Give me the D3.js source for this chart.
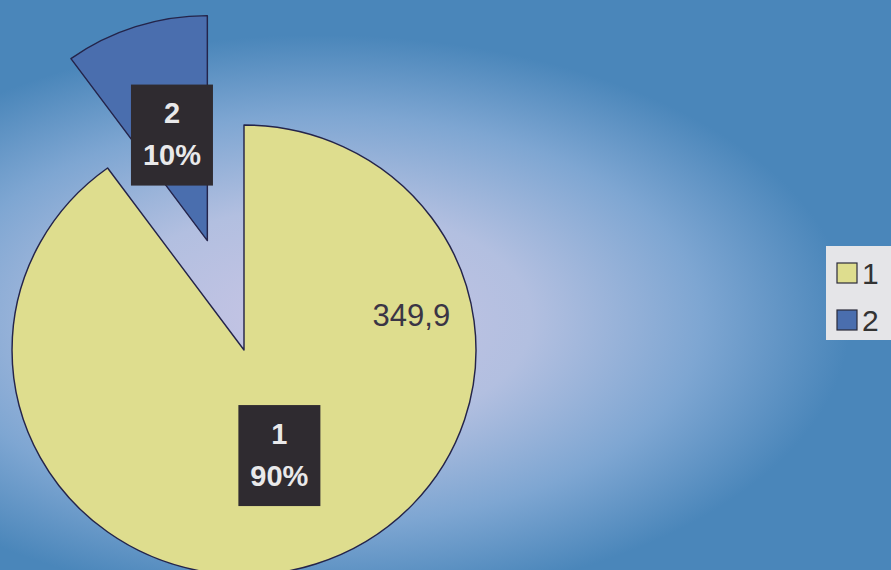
<!DOCTYPE html>
<html>
<head>
<meta charset="utf-8">
<script src="https://cdn.jsdelivr.net/npm/d3@7"></script>
<style>
  html, body { margin: 0; padding: 0; background: #4a86ba; }
  svg { display: block; font-family: 'Liberation Sans', Arial, sans-serif; }
</style>
</head>
<body>
<div id="chart"></div>
<script>
const WIDTH = 891,
      HEIGHT = 570

// data
const CATEGORIES = ['1', '2'],
      VALUES = [349.9, 38.9],
      COLORS = ['#dedd8e', '#4a6eae'],
      EXPLODE = [0, 115],
      VALUE_LABELS = [{ category: '1', show: true }]

const PIE = Object.freeze({ CX: 244, CY: 350, R: 225, SX: 1.031 }),
      LABEL_R = 111,
      BOX = Object.freeze({ W: 82, H: 101 })

const ruLocale = d3.formatLocale({ decimal: ',', thousands: ' ', grouping: [3], currency: ['', ''] }),
      formatValue = ruLocale.format('.1f'),
      formatPct = d3.format('.0%')

const svg = d3.select('#chart')
  .append('svg')
  .attr('width', WIDTH)
  .attr('height', HEIGHT)

// background
const defs = svg.append('defs')
const bg = defs.append('radialGradient')
  .attr('id', 'bg')
  .attr('gradientUnits', 'userSpaceOnUse')
  .attr('cx', 0).attr('cy', 0).attr('r', 1)
  .attr('gradientTransform', 'translate(320,320) scale(530,285)')
bg.append('stop').attr('offset', 0).attr('stop-color', '#c9c5e5')
bg.append('stop').attr('offset', 0.4).attr('stop-color', '#b2bfe0')
bg.append('stop').attr('offset', 0.72).attr('stop-color', '#7ea6d2')
bg.append('stop').attr('offset', 1).attr('stop-color', '#4a86ba')

svg.append('rect')
  .attr('width', WIDTH)
  .attr('height', HEIGHT)
  .attr('fill', 'url(#bg)')

const total = d3.sum(VALUES)
const pie = d3.pie().sort(null).value(d => d.value)
const arcs = pie(CATEGORIES.map((c, i) => ({ category: c, value: VALUES[i], color: COLORS[i], explode: EXPLODE[i] })))

const arc = d3.arc().innerRadius(0).outerRadius(PIE.R),
      labelArc = d3.arc().innerRadius(LABEL_R).outerRadius(LABEL_R)

const offsetOf = d => {
  const mid = (d.startAngle + d.endAngle) / 2
  return [Math.sin(mid) * d.data.explode, -Math.cos(mid) * d.data.explode]
}

const pieG = svg.append('g')
  .attr('transform', `translate(${PIE.CX},${PIE.CY}) scale(${PIE.SX},1)`)

pieG.selectAll('path.slice')
  .data(arcs)
  .enter()
  .append('path')
  .attr('class', 'slice')
  .attr('transform', d => `translate(${offsetOf(d)})`)
  .attr('d', arc)
  .attr('fill', d => d.data.color)
  .attr('stroke', '#24244a')
  .attr('stroke-width', 1.4)
  .attr('stroke-linejoin', 'round')

// category / percent labels in dark boxes
const labels = svg.append('g')
  .attr('transform', `translate(${PIE.CX},${PIE.CY})`)
  .selectAll('g.label')
  .data(arcs)
  .enter()
  .append('g')
  .attr('class', 'label')
  .attr('transform', d => {
    const [ox, oy] = offsetOf(d),
          [lx, ly] = labelArc.centroid(d)
    return `translate(${(ox + lx) * PIE.SX},${oy + ly})`
  })

labels.append('rect')
  .attr('x', -BOX.W / 2)
  .attr('y', -BOX.H / 2)
  .attr('width', BOX.W)
  .attr('height', BOX.H)
  .attr('fill', '#2f2b30')

labels.append('text')
  .attr('text-anchor', 'middle')
  .attr('y', -12)
  .attr('fill', '#e9e9ea')
  .style('font-size', '29px')
  .style('font-weight', 'bold')
  .text(d => d.data.category)

labels.append('text')
  .attr('text-anchor', 'middle')
  .attr('y', 30)
  .attr('fill', '#e9e9ea')
  .style('font-size', '29px')
  .style('font-weight', 'bold')
  .text(d => formatPct(d.data.value / total))

// value label sitting on the big slice
const valueArc = d3.arc().innerRadius(166).outerRadius(166)
VALUE_LABELS.forEach(v => {
  const d = arcs.find(a => a.data.category === v.category)
  const [vx, vy] = valueArc.centroid({ startAngle: 1.36, endAngle: 1.36 })
  svg.append('text')
    .attr('x', PIE.CX + vx * PIE.SX)
    .attr('y', PIE.CY + vy + 11)
    .attr('text-anchor', 'middle')
    .attr('fill', '#3a3545')
    .style('font-size', '31px')
    .text(formatValue(d.data.value))
})

// legend
const legend = svg.append('g')
  .attr('transform', 'translate(826,246)')

legend.append('rect')
  .attr('width', 80)
  .attr('height', 94)
  .attr('fill', '#e5e5e8')

const legendY = d3.scalePoint()
  .domain(CATEGORIES)
  .range([27, 74])

const items = legend.selectAll('g.item')
  .data(CATEGORIES)
  .enter()
  .append('g')
  .attr('class', 'item')
  .attr('transform', d => `translate(0,${legendY(d)})`)

items.append('rect')
  .attr('x', 11)
  .attr('y', -10)
  .attr('width', 20)
  .attr('height', 20)
  .attr('fill', (d, i) => COLORS[i])
  .attr('stroke', '#2a2a3a')
  .attr('stroke-width', 1.2)

items.append('text')
  .attr('x', 36)
  .attr('y', 11)
  .attr('fill', '#333')
  .style('font-size', '30px')
  .text(d => d)
</script>
</body>
</html>
